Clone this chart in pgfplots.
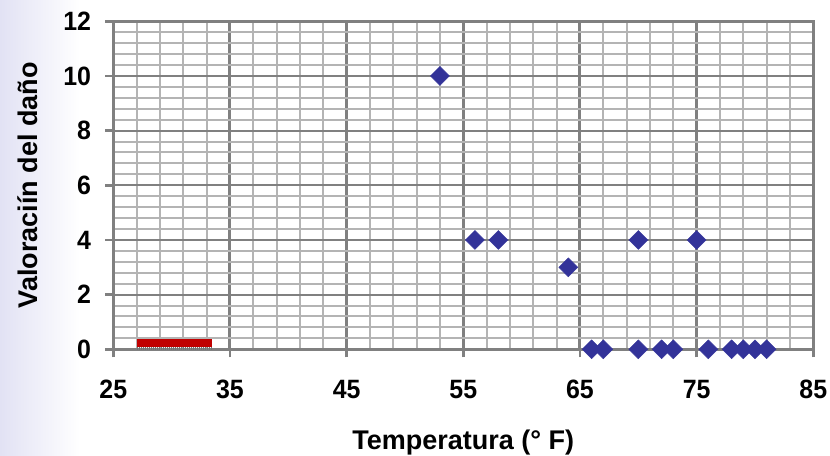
\documentclass[border=0pt]{standalone}
\usepackage{fontspec}
\setmainfont{Liberation Sans}
\newfontfamily\condfont[FakeStretch=0.94]{Liberation Sans}
\usepackage{pgfplots}
\pgfplotsset{compat=1.18}
\definecolor{mk}{RGB}{51,51,153}
\definecolor{barred}{RGB}{192,0,0}
\definecolor{majg}{RGB}{128,128,128}
\definecolor{ming}{RGB}{180,180,180}
\definecolor{lav}{RGB}{226,226,244}
\begin{document}
\begin{tikzpicture}
\path[use as bounding box] (0,0) rectangle (830bp,456bp);
\shade[left color=lav, right color=white] (0,0) rectangle (80bp,456bp);
\begin{axis}[
  at={(113.3bp,106.7bp)}, anchor=south west,
  scale only axis, width=700bp, height=328bp,
  xmin=25, xmax=85, ymin=0, ymax=12,
  xtick={25,35,...,85}, ytick={0,2,...,12},
  minor x tick num=4, minor y tick num=4,
  grid=both,
  major x grid style={draw=majg, line width=3bp},
  major y grid style={draw=majg, line width=2.2bp},
  minor grid style={draw=ming, line width=2bp},
  axis line style={draw=majg, line width=2.5bp},
  tick style={draw=majg, line width=2.5bp},
  tick align=outside, major tick length=8bp, minor tick length=0pt,
  tick pos=left,
  /pgf/number format/assume math mode=true,
  ticklabel style={font=\fontsize{26.5bp}{30bp}\condfont\bfseries, inner sep=0pt},
  yticklabel style={anchor=east, xshift=-14bp},
  xticklabel style={anchor=north, yshift=-22.7bp},
  xlabel={Temperatura (° F)},
  ylabel={Valoraciín del daño},
  label style={font=\fontsize{27bp}{30bp}\selectfont\bfseries, inner sep=0pt},
  xlabel style={at={(axis description cs:0.5,-0.3070)}, anchor=base},
  ylabel style={at={(axis description cs:-0.10857,0.5)}, anchor=base},
  clip=false,
]
\addplot[draw=none, fill=barred] coordinates {(27,0.1) (33.5,0.1) (33.5,0.39) (27,0.39)} -- cycle;
\addplot[draw=black!55, line width=3bp, dash pattern=on 1bp off 1bp] coordinates {(27,0.02) (33.5,0.02)};
\addplot[only marks, mark=square*, mark size=6.7bp,
  mark options={rotate=45, draw=mk, fill=mk}] coordinates {
  (53,10) (56,4) (58,4) (64,3) (70,4) (75,4)
  (66,0) (67,0) (70,0) (72,0) (73,0) (76,0) (78,0) (79,0) (80,0) (81,0)
};
\end{axis}
\end{tikzpicture}
\end{document}
